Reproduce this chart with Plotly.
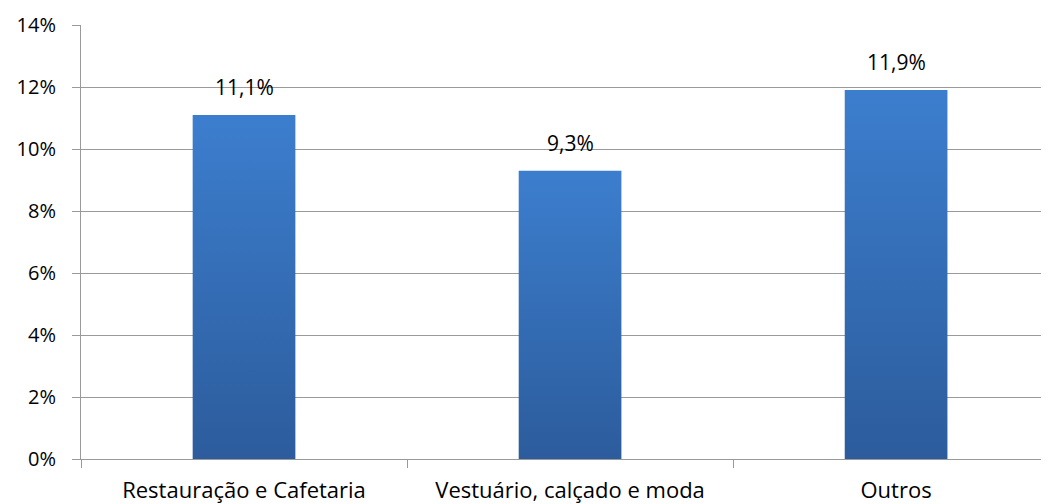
import plotly.graph_objects as go

categories = ["Restauração e Cafetaria", "Vestuário, calçado e moda", "Outros"]
values = [11.1, 9.3, 11.9]
y_ticks = [0, 2, 4, 6, 8, 10, 12, 14]

FONT = "Open Sans"
BAR_W = 0.315
GRID = "#9A9A9A"

fig = go.Figure()
for i, v in enumerate(values):
    x0, x1 = i - BAR_W / 2, i + BAR_W / 2
    fig.add_trace(go.Scatter(
        x=[x0, x1, x1, x0, x0], y=[0, 0, v, v, 0],
        mode="lines", line=dict(width=0), fill="toself",
        fillgradient=dict(type="vertical",
                          colorscale=[[0, "#2C5C9C"], [1, "#3C7ECE"]]),
        hoverinfo="skip", showlegend=False,
    ))
    fig.add_annotation(
        x=i, y=v, text=f"{v:.1f}".replace(".", ",") + "%",
        showarrow=False, yanchor="bottom", yshift=12,
        font=dict(family=FONT, size=21, color="#000"),
    )

# the page body adds an 8px offset, so the figure is sized to 1041x496
fig.update_layout(
    width=1041, height=496,
    margin=dict(l=73, r=0, t=17, b=45, autoexpand=False),
    plot_bgcolor="white", paper_bgcolor="white",
    font=dict(family=FONT, size=20, color="#000"),
    showlegend=False,
    xaxis=dict(
        range=[-0.5, 2.469], tickmode="array",
        tickvals=list(range(len(categories))), ticktext=categories,
        tickfont=dict(size=22),
        ticks="", showgrid=False, zeroline=False, automargin=False,
        showline=True, linecolor=GRID, linewidth=1,
        minor=dict(tickmode="array", tickvals=[-0.5, 0.5, 1.5],
                   ticks="outside", ticklen=8, tickcolor=GRID, showgrid=False),
        ticklabelstandoff=12,
    ),
    yaxis=dict(
        range=[0, 14], tickmode="array", tickvals=y_ticks,
        ticktext=[f"{t}%" for t in y_ticks], automargin=False,
        showgrid=True, gridcolor=GRID, gridwidth=1,
        zeroline=False, showline=True, linecolor=GRID, linewidth=1,
        ticks="outside", ticklen=8, tickcolor=GRID,
        ticklabelstandoff=12,
    ),
)

fig.write_html("out.html")
